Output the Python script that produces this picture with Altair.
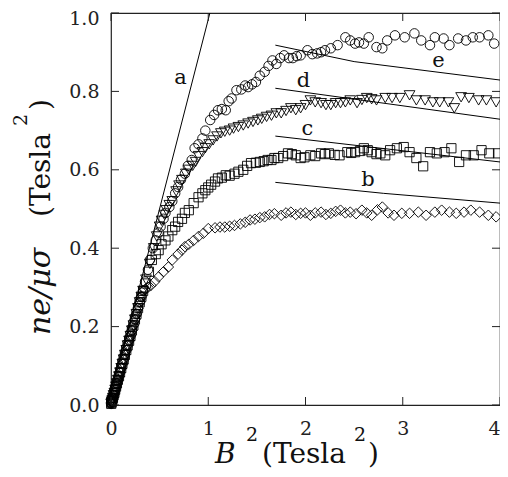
import altair as alt
import pandas as pd

W, H = 389, 392
FONT = "DejaVu Serif"

# ---- data ----
common_x = [0.002, 0.005, 0.009, 0.014, 0.02, 0.027, 0.035, 0.043, 0.052, 0.061, 0.071, 0.082,
            0.093, 0.105, 0.117, 0.13, 0.143, 0.157, 0.171, 0.186, 0.2, 0.215, 0.23, 0.246,
            0.262, 0.278, 0.295, 0.312, 0.33]
common_y = [0.003, 0.006, 0.009, 0.013, 0.018, 0.025, 0.031, 0.039, 0.047, 0.055, 0.064, 0.073,
            0.083, 0.094, 0.105, 0.116, 0.128, 0.14, 0.152, 0.164, 0.176, 0.19, 0.203, 0.218,
            0.232, 0.247, 0.262, 0.276, 0.291]

circ_x = [0.35, 0.38, 0.40, 0.43, 0.46, 0.49, 0.51, 0.54, 0.56, 0.60, 0.63, 0.66, 0.69, 0.72, 0.76,
          0.79, 0.83, 0.86, 0.90, 0.94, 0.97, 1.02, 1.06, 1.10, 1.14, 1.18, 1.21, 1.24, 1.29, 1.34,
          1.38, 1.41, 1.45, 1.49, 1.53, 1.58, 1.62, 1.66, 1.70, 1.74, 1.78, 1.83, 1.87, 1.91, 1.95,
          2.02, 2.07, 2.12, 2.16, 2.20, 2.26, 2.33, 2.41, 2.46, 2.51, 2.55, 2.60, 2.65, 2.73, 2.79,
          2.84, 2.92, 3.02, 3.12, 3.19, 3.28, 3.33, 3.42, 3.48, 3.57, 3.65, 3.72, 3.79, 3.88, 3.94]
circ_y = [0.315, 0.345, 0.37, 0.40, 0.42, 0.44, 0.455, 0.475, 0.49, 0.505, 0.52, 0.54, 0.556, 0.575,
          0.59, 0.61, 0.625, 0.655, 0.665, 0.68, 0.70, 0.727, 0.74, 0.752, 0.755, 0.752, 0.775, 0.782,
          0.803, 0.805, 0.815, 0.811, 0.818, 0.824, 0.84, 0.85, 0.865, 0.879, 0.87, 0.885, 0.892,
          0.885, 0.885, 0.89, 0.892, 0.905, 0.895, 0.897, 0.90, 0.905, 0.91, 0.918, 0.938, 0.93,
          0.922, 0.925, 0.922, 0.938, 0.913, 0.91, 0.93, 0.943, 0.938, 0.948, 0.93, 0.918, 0.938,
          0.935, 0.918, 0.935, 0.93, 0.938, 0.938, 0.943, 0.922]

tri_x = [0.36, 0.40, 0.44, 0.47, 0.50, 0.52, 0.55, 0.57, 0.60, 0.63, 0.67, 0.70, 0.73, 0.77, 0.80,
         0.84, 0.87, 0.90, 0.94, 0.97, 1.01, 1.05, 1.09, 1.13, 1.17, 1.22, 1.26, 1.31, 1.36, 1.41,
         1.46, 1.51, 1.55, 1.60, 1.65, 1.70, 1.75, 1.80, 1.85, 1.90, 1.95, 2.00, 2.05, 2.10, 2.16,
         2.21, 2.26, 2.31, 2.36, 2.41, 2.46, 2.53, 2.58, 2.63, 2.68, 2.73, 2.82, 2.89, 2.97, 3.07,
         3.14, 3.23, 3.31, 3.38, 3.47, 3.53, 3.60, 3.68, 3.78, 3.86, 3.96]
tri_y = [0.32, 0.36, 0.40, 0.43, 0.455, 0.47, 0.485, 0.497, 0.51, 0.52, 0.545, 0.56, 0.574, 0.59,
         0.60, 0.61, 0.62, 0.635, 0.645, 0.655, 0.665, 0.675, 0.685, 0.693, 0.697, 0.70, 0.705,
         0.709, 0.713, 0.718, 0.722, 0.726, 0.73, 0.735, 0.738, 0.744, 0.744, 0.75, 0.757, 0.752,
         0.757, 0.765, 0.777, 0.772, 0.77, 0.765, 0.765, 0.77, 0.77, 0.772, 0.777, 0.77, 0.778,
         0.783, 0.78, 0.777, 0.783, 0.783, 0.783, 0.79, 0.777, 0.777, 0.772, 0.772, 0.772, 0.757,
         0.785, 0.783, 0.777, 0.777, 0.772]

sq_x = [0.36, 0.39, 0.42, 0.46, 0.49, 0.52, 0.56, 0.59, 0.63, 0.66, 0.69, 0.73, 0.76, 0.80, 0.85,
        0.90, 0.94, 0.97, 1.00, 1.03, 1.07, 1.10, 1.14, 1.18, 1.22, 1.27, 1.31, 1.36, 1.40, 1.44,
        1.49, 1.53, 1.57, 1.61, 1.65, 1.68, 1.72, 1.77, 1.82, 1.86, 1.90, 1.95, 1.99, 2.05, 2.10,
        2.16, 2.20, 2.24, 2.30, 2.35, 2.43, 2.47, 2.51, 2.56, 2.60, 2.64, 2.68, 2.73, 2.77, 2.82,
        2.87, 2.94, 3.01, 3.07, 3.14, 3.21, 3.28, 3.35, 3.43, 3.50, 3.58, 3.65, 3.73, 3.81, 3.89,
        3.98]
sq_y = [0.31, 0.34, 0.37, 0.385, 0.395, 0.41, 0.42, 0.43, 0.446, 0.455, 0.467, 0.475, 0.49, 0.497,
        0.515, 0.53, 0.54, 0.548, 0.555, 0.562, 0.57, 0.578, 0.58, 0.586, 0.585, 0.59, 0.595, 0.60,
        0.61, 0.617, 0.618, 0.62, 0.622, 0.625, 0.625, 0.63, 0.63, 0.635, 0.642, 0.64, 0.637, 0.63,
        0.632, 0.637, 0.635, 0.642, 0.64, 0.642, 0.638, 0.637, 0.645, 0.643, 0.645, 0.648, 0.655,
        0.65, 0.645, 0.64, 0.642, 0.637, 0.65, 0.655, 0.658, 0.645, 0.63, 0.609, 0.645, 0.642,
        0.645, 0.655, 0.62, 0.637, 0.637, 0.65, 0.642, 0.642]

dia_x = [0.35, 0.38, 0.41, 0.45, 0.49, 0.54, 0.59, 0.63, 0.69, 0.73, 0.76, 0.80, 0.85, 0.90, 0.95,
         1.00, 1.07, 1.12, 1.17, 1.22, 1.27, 1.33, 1.38, 1.43, 1.48, 1.53, 1.58, 1.63, 1.68, 1.75,
         1.80, 1.85, 1.90, 1.95, 2.00, 2.05, 2.10, 2.16, 2.21, 2.26, 2.31, 2.36, 2.41, 2.46, 2.52,
         2.58, 2.63, 2.68, 2.74, 2.79, 2.85, 2.91, 2.99, 3.07, 3.16, 3.24, 3.33, 3.40, 3.48, 3.55,
         3.63, 3.70, 3.79, 3.88, 3.96]
dia_y = [0.295, 0.30, 0.305, 0.315, 0.327, 0.34, 0.352, 0.37, 0.385, 0.395, 0.404, 0.41, 0.42,
         0.43, 0.438, 0.45, 0.452, 0.454, 0.454, 0.456, 0.458, 0.462, 0.466, 0.472, 0.474, 0.478,
         0.48, 0.486, 0.488, 0.484, 0.49, 0.492, 0.486, 0.489, 0.49, 0.484, 0.49, 0.492, 0.486,
         0.489, 0.494, 0.497, 0.49, 0.492, 0.488, 0.497, 0.49, 0.484, 0.498, 0.505, 0.49, 0.484,
         0.489, 0.489, 0.492, 0.484, 0.492, 0.497, 0.492, 0.489, 0.492, 0.497, 0.492, 0.484, 0.48]

# reference lines a..e
line_names = ["a", "a", "b", "b", "b", "c", "c", "d", "d", "e", "e", "e"]
line_x = [0.10, 1.017, 1.69, 2.80, 4.0, 1.69, 4.0, 1.69, 4.0, 1.69, 2.50, 4.0]
line_y = [0.115, 1.0, 0.568, 0.540, 0.515, 0.686, 0.620, 0.808, 0.729, 0.918, 0.876, 0.829]

lab_text = ["a", "b", "c", "d", "e"]
lab_x = [0.714, 2.643, 2.02, 1.98, 3.367]
lab_y = [0.834, 0.574, 0.704, 0.826, 0.877]

x_ticks = [0, 1, 2, 3, 4]
y_ticks = [0.0, 0.2, 0.4, 0.6, 0.8, 1.0]

# ---- build ----
def pts(xs, ys):
    return pd.DataFrame({"x": common_x + xs, "y": common_y + ys})

xs = alt.Scale(domain=[0, 4], nice=False, zero=False)
ys = alt.Scale(domain=[0, 1], nice=False, zero=False)

xax = alt.Axis(values=x_ticks, format="d", tickSize=0, domain=False, grid=False,
               labelFont=FONT, labelFontSize=19, labelColor="#222", labelPadding=14,
               labelFlush=False, labelOverlap=False, title=None,
               labelAlign=alt.condition("datum.value >= 4", alt.value("right"), alt.value("center")))
yax = alt.Axis(values=y_ticks, format=".1f", tickSize=0, domain=False, grid=False,
               labelFont=FONT, labelFontSize=19, labelColor="#222", labelPadding=12,
               labelFlush=False, labelOverlap=False, title=None,
               labelOffset=alt.condition("datum.value >= 1", alt.value(5), alt.value(0)))

def series(df, shape, size):
    return alt.Chart(df).mark_point(shape=shape, filled=False, color="black",
                                    strokeWidth=0.9, size=size, opacity=1).encode(
        x=alt.X("x:Q", scale=xs, axis=xax),
        y=alt.Y("y:Q", scale=ys, axis=yax),
    )

layers = [
    series(pts(dia_x, dia_y), "diamond", 110),
    series(pts(sq_x, sq_y), "square", 85),
    series(pts(tri_x, tri_y), "triangle-down", 115),
    series(pts(circ_x, circ_y), "circle", 90),
]

lines_df = pd.DataFrame({"name": line_names, "x": line_x, "y": line_y})
lines = alt.Chart(lines_df).mark_line(color="black", strokeWidth=1).encode(
    x=alt.X("x:Q", scale=xs), y=alt.Y("y:Q", scale=ys), detail="name:N")

labs_df = pd.DataFrame({"t": lab_text, "x": lab_x, "y": lab_y})
labs = alt.Chart(labs_df).mark_text(font=FONT, fontSize=21, color="#111",
                                    baseline="middle", align="center").encode(
    x=alt.X("x:Q", scale=xs), y=alt.Y("y:Q", scale=ys), text="t:N")

# inward ticks on all four sides
xt = pd.DataFrame({"v": x_ticks})
yt = pd.DataFrame({"v": y_ticks})
tick_style = dict(color="#222", strokeWidth=1)
t_bottom = alt.Chart(xt).mark_rule(**tick_style).encode(
    x=alt.X("v:Q", scale=xs), y=alt.value(H), y2=alt.value(H - 8))
t_top = alt.Chart(xt).mark_rule(**tick_style).encode(
    x=alt.X("v:Q", scale=xs), y=alt.value(0), y2=alt.value(8))
t_left = alt.Chart(yt).mark_rule(**tick_style).encode(
    y=alt.Y("v:Q", scale=ys), x=alt.value(0), x2=alt.value(8))
t_right = alt.Chart(yt).mark_rule(**tick_style).encode(
    y=alt.Y("v:Q", scale=ys), x=alt.value(W), x2=alt.value(W - 8))

# axis titles built from pieces (italic symbols, superscripts)
def txt(s, x, y, size=28, style="normal", angle=0):
    return alt.Chart(pd.DataFrame({"t": [s]})).mark_text(
        font=FONT, fontSize=size, fontStyle=style, color="#111", align="left",
        baseline="alphabetic", angle=angle).encode(
        text="t:N", x=alt.value(x), y=alt.value(y))

PAD_L, PAD_T = 103, 5
OX, OY = 8 + PAD_L, 8 + PAD_T  # page position of the plot origin
titles = [
    txt("B", 215 - OX, 463 - OY, style="italic"),
    txt("2", 246 - OX, 441 - OY, size=19),
    txt("(Tesla", 262 - OX, 463 - OY),
    txt("2", 354 - OX, 441 - OY, size=19),
    txt(")", 368 - OX, 463 - OY),
    txt("ne/\u03bc\u03c3", 50 - OX, 335 - OY, size=30, style="italic", angle=270),
    txt("(Tesla", 50 - OX, 217 - OY, angle=270),
    txt("2", 27 - OX, 126 - OY, size=19, angle=270),
    txt(")", 50 - OX, 110 - OY, angle=270),
]

chart = alt.layer(
    *layers, lines, labs, t_bottom, t_top, t_left, t_right, *titles
).properties(
    width=W, height=H,
    autosize=alt.AutoSizeParams(type="none"),
    padding={"left": PAD_L, "top": PAD_T, "right": 0, "bottom": 64},
).configure_view(stroke="#222", strokeWidth=1.2)

chart.save("out.html", embed_options={"renderer": "svg", "actions": False})
